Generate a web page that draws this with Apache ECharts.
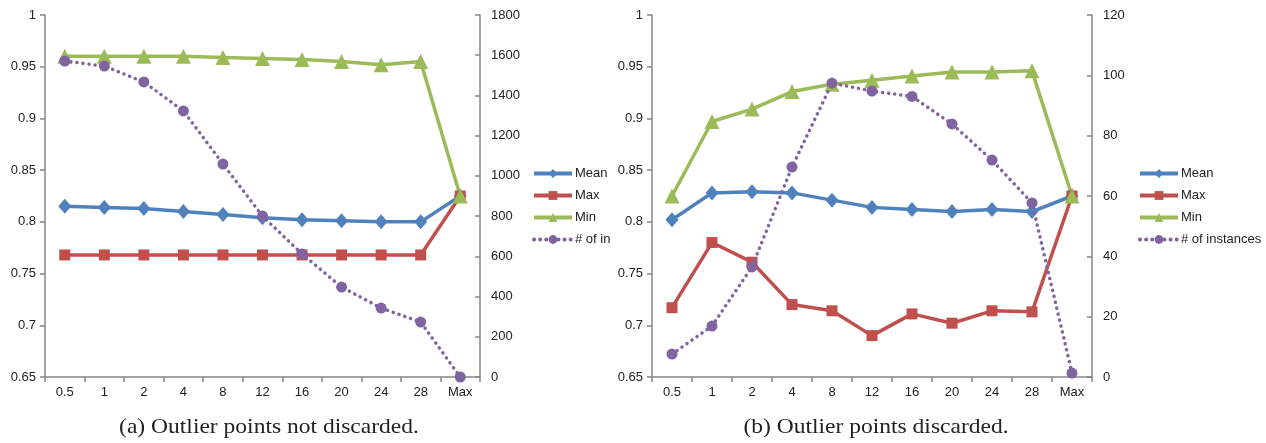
<!DOCTYPE html>
<html>
<head>
<meta charset="utf-8">
<script src="https://cdn.jsdelivr.net/npm/echarts@6/dist/echarts.min.js"></script>
<style>html,body{margin:0;padding:0;background:#fff}#c{width:1266px;height:443px}</style>
</head>
<body>
<div id="c"></div>
<script>
const categories = ['0.5','1','2','4','8','12','16','20','24','28','Max'];
// (a) Outlier points not discarded
const aMean = [0.815,0.814,0.813,0.810,0.807,0.804,0.802,0.801,0.800,0.800,0.825];
const aMax  = [0.768,0.768,0.768,0.768,0.768,0.768,0.768,0.768,0.768,0.768,0.825];
const aMin  = [0.960,0.960,0.960,0.960,0.959,0.958,0.957,0.955,0.952,0.955,0.825];
const aInst = [1571,1546,1467,1323,1059,800,612,447,343,273,0];
// (b) Outlier points discarded
const bMean = [0.802,0.828,0.829,0.828,0.821,0.814,0.812,0.810,0.812,0.810,0.825];
const bMax  = [0.717,0.780,0.761,0.720,0.714,0.690,0.711,0.702,0.714,0.713,0.825];
const bMin  = [0.825,0.897,0.909,0.926,0.933,0.937,0.941,0.945,0.945,0.946,0.825];
const bInst = [7.6,16.9,36.5,69.6,97.4,94.8,93.0,83.9,71.9,57.7,1.3];
const captionA = '(a) Outlier points not discarded.';
const captionB = '(b) Outlier points discarded.';
const names = ['Mean','Max','Min','# of instances'];

const C = {mean:'#4F81BD', max:'#C0504D', min:'#9BBB59', inst:'#8064A2'};
const axisCol = '#868686';
const font = 'Arial, "Liberation Sans", sans-serif';

function xAxis(gi){
  return {type:'category', gridIndex:gi, data:categories, boundaryGap:true,
    axisLine:{lineStyle:{color:axisCol,width:1.5}},
    axisTick:{show:true, alignWithLabel:false, length:5, lineStyle:{color:axisCol,width:1.5}},
    axisLabel:{color:'#222', fontSize:13, fontFamily:font, margin:9, interval:0},
    splitLine:{show:false}};
}
function yLeft(gi){
  return {type:'value', gridIndex:gi, min:0.65, max:1, interval:0.05, position:'left',
    axisLine:{show:true, lineStyle:{color:axisCol,width:1.5}},
    axisTick:{show:true, length:5, lineStyle:{color:axisCol,width:1.5}},
    axisLabel:{color:'#222', fontSize:13, fontFamily:font, margin:9,
      formatter:v=>String(+v.toFixed(2))},
    splitLine:{show:false}};
}
function yRight(gi,max,interval){
  return {type:'value', gridIndex:gi, min:0, max:max, interval:interval, position:'right',
    axisLine:{show:true, lineStyle:{color:axisCol,width:1.5}},
    axisTick:{show:true, inside:true, length:5, lineStyle:{color:axisCol,width:1.5}},
    axisLabel:{color:'#222', fontSize:13, fontFamily:font, margin:11,
      formatter:v=>String(Math.round(v))},
    splitLine:{show:false}};
}
function ser(name,data,xi,yi,color,symbol,size,dotted){
  return {type:'line', name:name, data:data, xAxisIndex:xi, yAxisIndex:yi,
    symbol:symbol, symbolSize:size, showAllSymbol:true,
    itemStyle:{color:color},
    lineStyle:{color:color, width:3.5, type: dotted?[0.1,6]:'solid', cap: dotted?'round':'butt'},
    z: dotted?3:2, animation:false};
}
function legend(left,truncate){
  return {orient:'vertical', left:left, top:162, itemWidth:38, itemHeight:11, itemGap:9,
    data:names, selectedMode:false,
    lineStyle:{width:4},
    textStyle:Object.assign({color:'#222', fontSize:13, fontFamily:font, padding:[0,0,0,-2]},
      truncate?{width:38, overflow:'truncate', ellipsis:''}:{})};
}

const chart = echarts.init(document.getElementById('c'));
chart.setOption({
  backgroundColor:'#fff',
  animation:false,
  grid:[{left:45, right:786, top:15, bottom:66},{left:652, right:174, top:15, bottom:66}],
  xAxis:[xAxis(0), xAxis(1)],
  yAxis:[yLeft(0), yRight(0,1800,200), yLeft(1), yRight(1,120,20)],
  legend:[legend(527,true), legend(1133,false)],
  series:[
    ser('Mean',aMean,0,0,C.mean,'diamond',[13,15],false),
    ser('Max',aMax,0,0,C.max,'rect',11,false),
    ser('Min',aMin,0,0,C.min,'triangle',15,false),
    ser('# of instances',aInst,0,1,C.inst,'circle',11,true),
    ser('Mean',bMean,1,2,C.mean,'diamond',[13,15],false),
    ser('Max',bMax,1,2,C.max,'rect',11,false),
    ser('Min',bMin,1,2,C.min,'triangle',15,false),
    ser('# of instances',bInst,1,3,C.inst,'circle',11,true)
  ],
  graphic:[
    {type:'text', x:269, y:427, scaleX:1.12, style:{text:captionA, textAlign:'center', textVerticalAlign:'middle',
      font:'21px "Liberation Serif", "DejaVu Serif", serif', fill:'#222'}},
    {type:'text', x:876, y:427, scaleX:1.12, style:{text:captionB, textAlign:'center', textVerticalAlign:'middle',
      font:'21px "Liberation Serif", "DejaVu Serif", serif', fill:'#222'}}
  ]
});
</script>
</body>
</html>
